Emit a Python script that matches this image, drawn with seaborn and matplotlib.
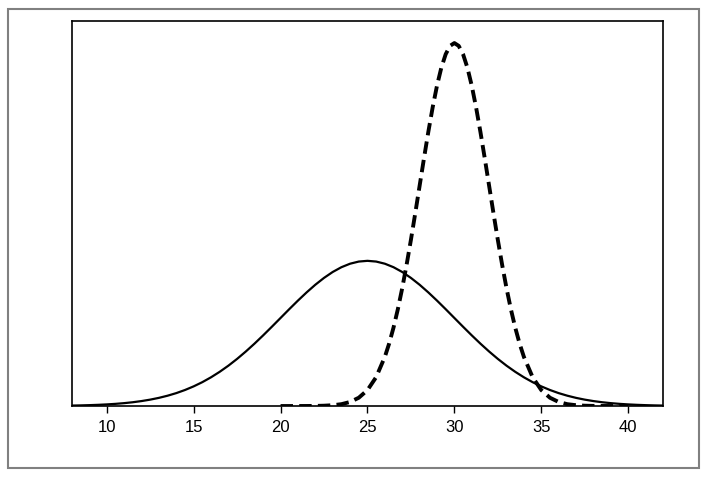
import matplotlib
matplotlib.use("Agg")
import matplotlib.pyplot as plt
import seaborn as sns
import pandas as pd
from matplotlib.patches import Rectangle

# solid curve (wide) at x = 8 .. 42 step 0.5
x_wide = [8 + 0.5 * i for i in range(69)]
y_wide_half = [0.000247, 0.000345, 0.000477, 0.000654, 0.000886, 0.00119, 0.00158,
               0.00208, 0.00272, 0.00351, 0.00448, 0.00567, 0.00709, 0.00880,
               0.01080, 0.01312, 0.01579, 0.01881, 0.02218, 0.02590, 0.02995,
               0.03427, 0.03884, 0.04357, 0.04839, 0.05322, 0.05794, 0.06245,
               0.06665, 0.07041, 0.07366, 0.07628, 0.07821, 0.07939]
y_wide_peak = [0.07979]
y_wide = y_wide_half + y_wide_peak + y_wide_half[::-1]

# dashed curve (narrow), x = 20 .. 40
x_narrow = [20, 20.5, 21, 21.5, 22, 22.5, 23, 23.5, 24, 24.5, 25, 25.5, 26, 26.25,
            26.5, 26.75, 27, 27.25, 27.5, 27.75, 28, 28.25, 28.5, 28.75, 29, 29.25,
            29.5, 29.75, 30, 30.25, 30.5, 30.75, 31, 31.25, 31.5, 31.75, 32, 32.25,
            32.5, 32.75, 33, 33.25, 33.5, 33.75, 34, 34.5, 35, 35.5, 36, 36.5, 37,
            37.5, 38, 38.5, 39, 39.5, 40]
y_narrow = [0.0000007, 0.0000025, 0.000008, 0.000024, 0.0000669, 0.000177, 0.00044,
            0.00101, 0.00222, 0.00455, 0.00876, 0.01587, 0.02700, 0.03439,
            0.04314, 0.05327, 0.06476, 0.07751, 0.09132, 0.10594, 0.12099, 0.13602,
            0.15057, 0.16408, 0.17603, 0.18593, 0.19333, 0.19792, 0.19947, 0.19792,
            0.19333, 0.18593, 0.17603, 0.16408, 0.15057, 0.13602, 0.12099, 0.10594,
            0.09132, 0.07751, 0.06476, 0.05327, 0.04314, 0.03439, 0.02700, 0.01587,
            0.00876, 0.00455, 0.00222, 0.00101, 0.00044, 0.000177, 0.0000669,
            0.000024, 0.000008, 0.0000025, 0.0000007]

xticks = [10, 15, 20, 25, 30, 35, 40]

sns.set_style("white")
plt.rcParams['font.family'] = ['Liberation Sans', 'DejaVu Sans']

fig = plt.figure(figsize=(7.14, 4.81), dpi=100)
ax = fig.add_axes([0.1008, 0.1538, 0.8277, 0.8005])

wide = pd.DataFrame({"x": x_wide, "y": y_wide})
narrow = pd.DataFrame({"x": x_narrow, "y": y_narrow})
sns.lineplot(data=wide, x="x", y="y", ax=ax, color="black", linewidth=1.6)
sns.lineplot(data=narrow, x="x", y="y", ax=ax, color="black", linewidth=2.8,
             linestyle=(0, (3.2, 1.6)))

ax.set_xlim(8, 42)
ax.set_ylim(0, 0.2116)
ax.set_xticks(xticks)
ax.set_yticks([])
ax.set_xlabel("")
ax.set_ylabel("")
ax.tick_params(axis="x", direction="out", length=5, width=1, color="black",
               labelsize=12, labelcolor="black", pad=4, bottom=True)
for s in ax.spines.values():
    s.set_color("black")
    s.set_linewidth(1.2)

fig.patches.append(Rectangle((8 / 714, 1 - 469 / 481), 691 / 714, 459 / 481,
                             transform=fig.transFigure, fill=False,
                             edgecolor="#808080", linewidth=1.5))

fig.savefig("out.png", dpi=100)
